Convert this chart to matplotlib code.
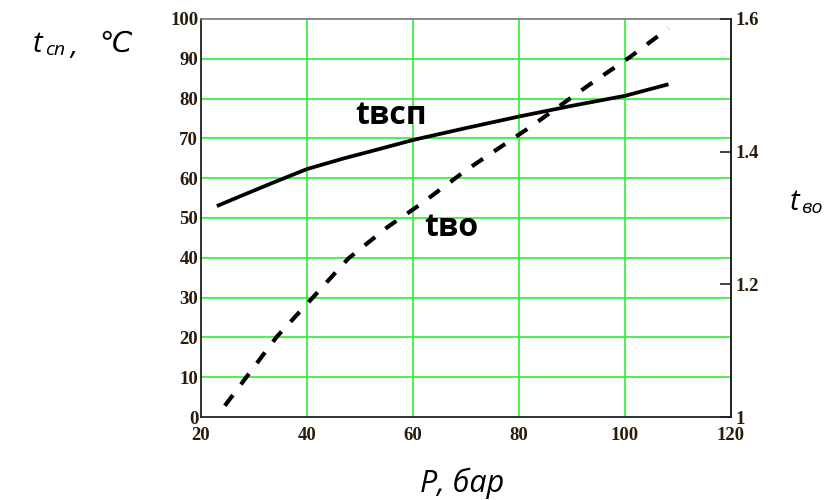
import matplotlib
matplotlib.use("Agg")
import matplotlib.pyplot as plt

# Pressure, bar
p_sp = [23.0, 28.0, 34.0, 40.0, 47.0, 53.0, 60.0, 70.0, 80.0, 90.0, 100.0, 108.2]
# t_sp, deg C (left axis)
t_sp = [53.0, 55.8, 59.1, 62.3, 65.0, 67.1, 69.6, 72.6, 75.5, 78.2, 80.7, 83.6]

p_vo = [24.5, 34.3, 41.2, 47.8, 55.3, 61.3, 70.0, 82.1, 93.1, 101.0, 108.2]
# t_vo (right axis)
t_vo = [1.017, 1.121, 1.181, 1.239, 1.287, 1.320, 1.372, 1.437, 1.500, 1.543, 1.586]

x_ticks = [20, 40, 60, 80, 100, 120]
y_ticks = [0, 10, 20, 30, 40, 50, 60, 70, 80, 90, 100]
y2_ticks = [1.0, 1.2, 1.4, 1.6]
y2_labels = ["1", "1.2", "1.4", "1.6"]

tick_color = "#2a1c0c"
grid_color = "#30ee30"
tick_font = dict(family="Liberation Serif", weight="bold", size=13.5)

fig = plt.figure(figsize=(8.25, 5.0), dpi=100)
ax = fig.add_axes([201 / 825, 83 / 500, 530 / 825, 398 / 500])

ax.set_xlim(20, 120)
ax.set_ylim(0, 100)
ax.set_xticks(x_ticks)
ax.set_yticks(y_ticks)
ax.set_xticklabels([str(v) for v in x_ticks], **tick_font, color=tick_color)
ax.set_yticklabels([str(v) for v in y_ticks], **tick_font, color=tick_color)
ax.tick_params(axis="x", length=0, pad=7)
ax.tick_params(axis="y", length=0, pad=2)

for v in x_ticks[1:-1]:
    ax.axvline(v, color=grid_color, lw=1.2, zorder=1)
for v in y_ticks[1:-1]:
    ax.axhline(v, color=grid_color, lw=1.2, zorder=1)

for side in ["left", "bottom", "right"]:
    ax.spines[side].set_color("#222222")
    ax.spines[side].set_linewidth(1.3)
ax.spines["top"].set_color("#777777")
ax.spines["top"].set_linewidth(1.2)

ax.plot(p_sp, t_sp, color="black", lw=2.7, solid_capstyle="butt", zorder=3)

ax2 = ax.twinx()
ax2.set_ylim(1.0, 1.6)
ax2.set_yticks(y2_ticks)
ax2.set_yticklabels(y2_labels, **tick_font, color=tick_color)
ax2.tick_params(axis="y", direction="in", length=8, width=1.2, color="#222222", pad=3)
for side in ["left", "bottom", "top"]:
    ax2.spines[side].set_visible(False)
ax2.spines["right"].set_color("#222222")
ax2.spines["right"].set_linewidth(1.3)

ax2.plot(p_vo, t_vo, color="black", lw=3.0, dashes=(3.2, 3.2), zorder=3)

label_font = dict(family="Open Sans", weight="bold", size=23, color="black")
ax.text(55.8, 75.8, "tвсп", ha="center", va="center", **label_font, zorder=4)
ax.text(67.2, 47.5, "tво", ha="center", va="center", **label_font, zorder=4)

ax_font = dict(family="Open Sans", style="italic", color="black")
fig.text(33 / 825, 1 - 45 / 500, r"t", fontsize=21, va="center", ha="left", **ax_font)
fig.text(45 / 825, 1 - 50 / 500, "сп", fontsize=14, va="center", ha="left", **ax_font)
fig.text(70 / 825, 1 - 47 / 500, ",", fontsize=21, va="center", ha="left", **ax_font)
fig.text(99 / 825, 1 - 44 / 500, "℃", fontsize=21, va="center", ha="left",
         family="DejaVu Sans", style="oblique", color="black")

fig.text(790 / 825, 1 - 203 / 500, "t", fontsize=21, va="center", ha="left", **ax_font)
fig.text(801 / 825, 1 - 208 / 500, "во", fontsize=14, va="center", ha="left", **ax_font)

fig.text(462 / 825, 1 - 483 / 500, "P, бар", fontsize=22, va="center", ha="center", **ax_font)

fig.savefig("out.png", dpi=100)
